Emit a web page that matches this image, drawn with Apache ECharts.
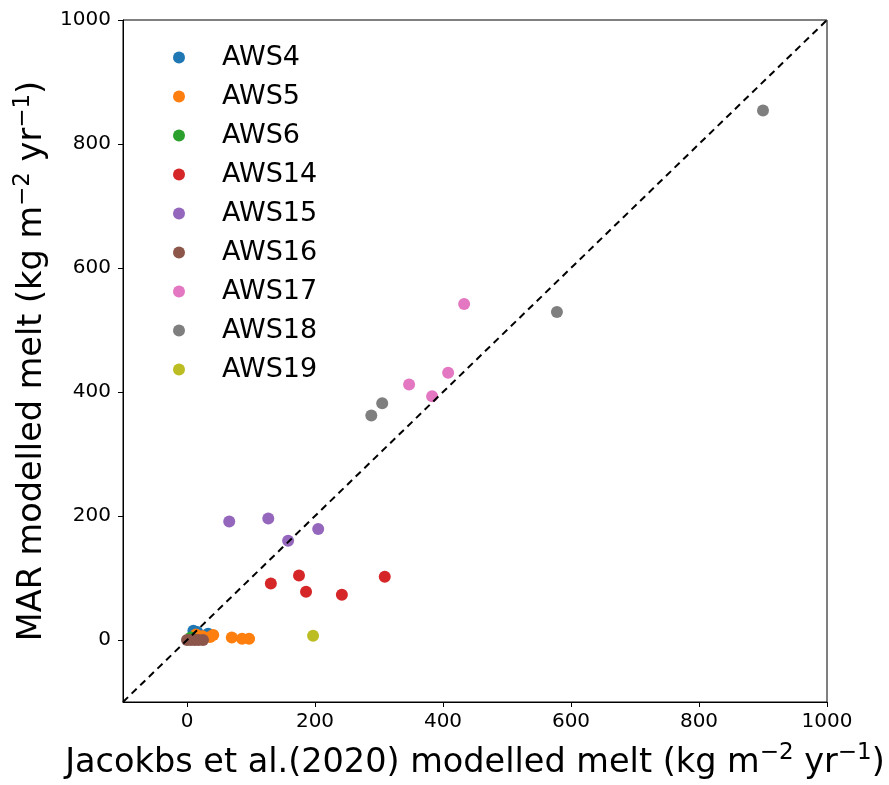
<!DOCTYPE html>
<html>
<head>
<meta charset="utf-8">
<script src="https://cdn.jsdelivr.net/npm/echarts@6/dist/echarts.min.js"></script>
<style>
  html, body { margin: 0; padding: 0; background: #fff; }
  #chart { width: 889px; height: 785px; }
</style>
</head>
<body>
<div id="chart"></div>
<script>
// station names and tab10 colours
const stations = ['AWS4', 'AWS5', 'AWS6', 'AWS14', 'AWS15', 'AWS16', 'AWS17', 'AWS18', 'AWS19']
const colors = ['#1f77b4', '#ff7f0e', '#2ca02c', '#d62728', '#9467bd', '#8c564b', '#e377c2', '#7f7f7f', '#bcbd22']

// [Jakobs et al. 2020 melt, MAR melt]
const aws4 = [[10, 15], [16, 13], [33, 10]]
const aws5 = [[14, 9], [36, 5], [41, 8], [70, 4], [86, 2], [97, 2], [24, 6]]
const aws6 = [[6, 4]]
const aws14 = [[131, 91], [175, 104], [186, 78], [242, 73], [309, 102]]
const aws15 = [[66, 191], [127, 196], [158, 160], [205, 179]]
const aws16 = [[0, 0], [6, 0], [12, 0], [18, 0], [25, 0]]
const aws17 = [[347, 412], [383, 393], [408, 431], [433, 542]]
const aws18 = [[288, 362], [305, 382], [578, 529], [900, 854]]
const aws19 = [[197, 7]]
const seriesData = [aws4, aws5, aws6, aws14, aws15, aws16, aws17, aws18, aws19]

const oneToOne = [[-100, -100], [1000, 1000]]
const tickValues = [0, 200, 400, 600, 800, 1000]

const chart = echarts.init(document.getElementById('chart'))

const series = stations.map((name, i) => ({
  name: name,
  type: 'scatter',
  data: seriesData[i],
  symbolSize: 12,
  itemStyle: { color: colors[i], opacity: 1 },
  z: 3
}))

series.push({
  type: 'line',
  data: oneToOne,
  symbol: 'none',
  silent: true,
  lineStyle: { color: '#000', width: 2, type: [7, 5] },
  z: 4
})

const axisCommon = {
  type: 'value',
  min: -100,
  max: 1000,
  nameLocation: 'middle',
  splitLine: { show: false },
  axisLine: { show: true, onZero: false, lineStyle: { color: '#000', width: 1 } },
  axisTick: { show: true, customValues: tickValues, length: 5, lineStyle: { color: '#000' } },
  axisLabel: {
    customValues: tickValues,
    formatter: (v) => String(v),
    color: '#000',
    fontSize: 20,
    fontFamily: 'DejaVu Sans'
  }
}

const nameRich = {
  a: { fontSize: 33.5, fontFamily: 'DejaVu Sans', color: '#000', verticalAlign: 'bottom', lineHeight: 38 },
  s: { fontSize: 23, fontFamily: 'DejaVu Sans', color: '#000', verticalAlign: 'top', lineHeight: 38 }
}

chart.setOption({
  animation: false,
  backgroundColor: '#fff',
  grid: {
    left: 123, right: 62, top: 20, bottom: 80,
    show: true, borderColor: '#000', borderWidth: 1
  },
  legend: {
    data: stations,
    orient: 'vertical',
    left: 168,
    top: 39,
    icon: 'circle',
    itemWidth: 12,
    itemHeight: 12,
    itemGap: 12,
    textStyle: {
      fontSize: 27, lineHeight: 27, fontFamily: 'DejaVu Sans', color: '#000',
      padding: [0, 0, 0, 32]
    }
  },
  xAxis: Object.assign({}, axisCommon, {
    name: '{a|Jacokbs et al.(2020) modelled melt (kg m}{s|−2}{a| yr}{s|−1}{a|)}',
    nameGap: 40,
    nameTextStyle: { rich: nameRich },
    axisLabel: Object.assign({}, axisCommon.axisLabel, { margin: 10 })
  }),
  yAxis: Object.assign({}, axisCommon, {
    name: '{a|MAR modelled melt (kg m}{s|−2}{a| yr}{s|−1}{a|)}',
    nameGap: 73,
    nameRotate: 90,
    nameTextStyle: { rich: nameRich },
    axisLabel: Object.assign({}, axisCommon.axisLabel, { margin: 12 })
  }),
  series: series
})
</script>
</body>
</html>
